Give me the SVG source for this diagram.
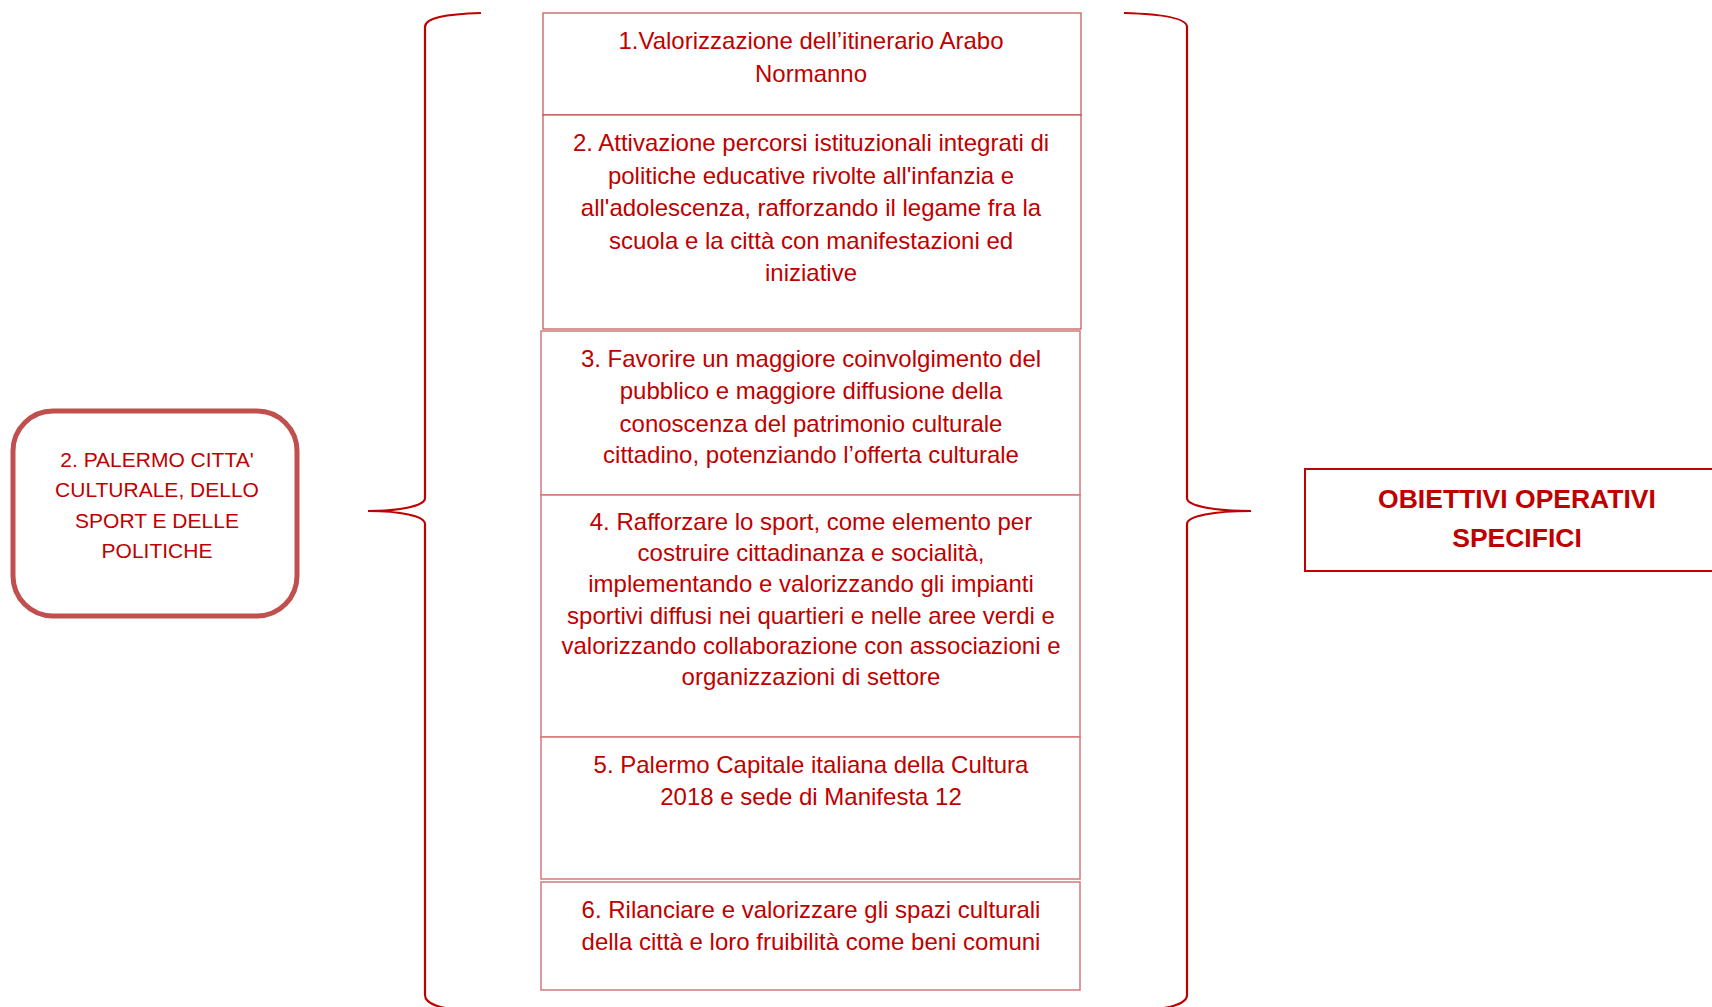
<svg xmlns="http://www.w3.org/2000/svg" width="1712" height="1007" viewBox="0 0 1712 1007">
<style>
.t{font-family:"Liberation Sans",Arial,sans-serif;fill:#C00000;text-anchor:middle}
.m{font-size:24px}
.l{font-size:21px}
.b{font-size:26.5px;font-weight:bold}
.box{fill:#fff;stroke:#D47A7A;stroke-width:1.5}
.box2{fill:#fff;stroke:#C0504D;stroke-width:1.2}
.brace{fill:none;stroke:#C00000;stroke-width:2.2}
</style>
<rect width="1712" height="1007" fill="#fff"/>
<g id="connectors">
<path class="brace" d="M481,13 C445,14 425,18 425,27 L425,498 C425,506 400,511 368,511 C400,511 425,516 425,524 L425,995 C425,1004 440,1010 481,1012"/>
<path class="brace" d="M1124,13 C1160,14 1187,18 1187,27 L1187,498 C1187,506 1214,511 1251,511 C1214,511 1187,516 1187,524 L1187,995 C1187,1004 1170,1010 1124,1012"/>
</g>
<g id="node-palermo">
<rect x="13" y="411" width="284" height="205" rx="40" fill="#fff" stroke="#C0504D" stroke-width="5"/>
<text class="t l" x="157" y="467">2. PALERMO CITTA'</text>
<text class="t l" x="157" y="497">CULTURALE, DELLO</text>
<text class="t l" x="157" y="528">SPORT E DELLE</text>
<text class="t l" x="157" y="558">POLITICHE</text>
</g>
<g id="node-1">
<rect class="box2" x="543" y="13" width="538" height="102"/>
<text class="t m" x="811" y="49">1.Valorizzazione dell’itinerario Arabo</text>
<text class="t m" x="811" y="82">Normanno</text>
</g>
<g id="node-2">
<rect class="box2" x="543" y="115" width="538" height="214"/>
<text class="t m" x="811" y="151">2. Attivazione percorsi istituzionali integrati di</text>
<text class="t m" x="811" y="184">politiche educative rivolte all'infanzia e</text>
<text class="t m" x="811" y="216">all'adolescenza, rafforzando il legame fra la</text>
<text class="t m" x="811" y="249">scuola e la città con manifestazioni ed</text>
<text class="t m" x="811" y="281">iniziative</text>
</g>
<g id="node-3">
<rect class="box" x="541" y="331" width="539" height="164"/>
<text class="t m" x="811" y="367">3. Favorire un maggiore coinvolgimento del</text>
<text class="t m" x="811" y="399">pubblico e maggiore diffusione della</text>
<text class="t m" x="811" y="432">conoscenza del patrimonio culturale</text>
<text class="t m" x="811" y="463">cittadino, potenziando l’offerta culturale</text>
</g>
<g id="node-4">
<rect class="box" x="541" y="495" width="539" height="242"/>
<text class="t m" x="811" y="530">4. Rafforzare lo sport, come elemento per</text>
<text class="t m" x="811" y="561">costruire cittadinanza e socialità,</text>
<text class="t m" x="811" y="592">implementando e valorizzando gli impianti</text>
<text class="t m" x="811" y="624">sportivi diffusi nei quartieri e nelle aree verdi e</text>
<text class="t m" x="811" y="654">valorizzando collaborazione con associazioni e</text>
<text class="t m" x="811" y="685">organizzazioni di settore</text>
</g>
<g id="node-5">
<rect class="box" x="541" y="737" width="539" height="142"/>
<text class="t m" x="811" y="773">5. Palermo Capitale italiana della Cultura</text>
<text class="t m" x="811" y="805">2018 e sede di Manifesta 12</text>
</g>
<g id="node-6">
<rect class="box" x="541" y="882" width="539" height="108"/>
<text class="t m" x="811" y="918">6. Rilanciare e valorizzare gli spazi culturali</text>
<text class="t m" x="811" y="950">della città e loro fruibilità come beni comuni</text>
</g>
<g id="node-obiettivi">
<rect x="1305" y="469" width="420" height="102" fill="#fff" stroke="#C00000" stroke-width="2"/>
<text class="t b" x="1517" y="508">OBIETTIVI OPERATIVI</text>
<text class="t b" x="1517" y="547">SPECIFICI</text>
</g>
</svg>
